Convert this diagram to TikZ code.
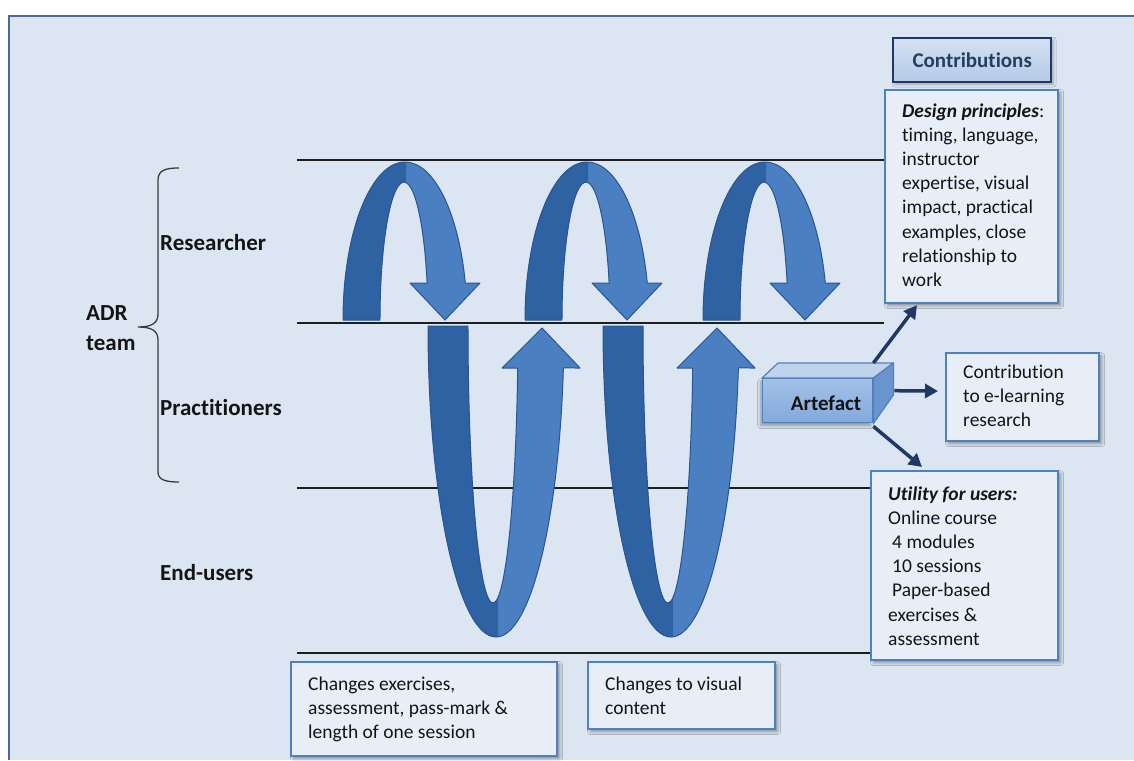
\documentclass[tikz,border=0pt]{standalone}
\usepackage{fontspec}
\setmainfont{Carlito}[Ligatures=NoCommon]
\usetikzlibrary{arrows.meta,shadows.blur,calc}

\definecolor{pagebg}{HTML}{DCE6F2}
\definecolor{framecol}{HTML}{4A6B9C}
\definecolor{bandline}{HTML}{1E1E1E}
\definecolor{loopdark}{HTML}{2F62A2}
\definecolor{looplight}{HTML}{4A80C2}
\definecolor{loopedge}{HTML}{2A558F}
\definecolor{boxedge}{HTML}{4F81BD}
\definecolor{boxfill}{HTML}{E8EEF7}
\definecolor{navy}{HTML}{1F3864}
\definecolor{headtext}{HTML}{243F60}
\definecolor{headtop}{HTML}{D4E1F2}
\definecolor{headbot}{HTML}{B4CAE6}
\definecolor{artfronthi}{HTML}{A3C1E8}
\definecolor{artfrontlo}{HTML}{82A9DC}
\definecolor{arttop}{HTML}{C0D3EB}
\definecolor{artside}{HTML}{6A94CD}
\definecolor{inktext}{HTML}{141414}
\definecolor{bracecol}{HTML}{3A3A3A}

\newcommand\bodysize{\fontsize{19.5}{24.2}\selectfont}
\newcommand\labelsize{\fontsize{23}{30}\selectfont\bfseries}

\begin{document}
\begin{tikzpicture}[x=1pt,y=-1pt,
  bandrule/.style={draw=bandline, line width=1.3pt},
  loopfill/.style={fill=looplight},
  loopshade/.style={fill=loopdark},
  loopline/.style={draw=loopedge, line width=1pt, line join=round},
  % arch in the researcher band: centre x, legs end on y=320
  toparc/.style={insert path={({#1-62},320)
      arc[start angle=180,end angle=346.5,x radius=62,y radius=158]
      -- ({#1+75},283) -- ({#1+40},320) -- ({#1+5},283) -- ({#1+22.1},283)
      arc[start angle=344.4,end angle=180,x radius=24,y radius=138] -- cycle}},
  % deep U through practitioners and end-users: centre x, legs start on y=326
  lowloop/.style={insert path={({#1-68},326)
      arc[start angle=180,end angle=7.76,x radius=68,y radius=311]
      -- ({#1+84},368) -- ({#1+46},328) -- ({#1+6},368) -- ({#1+21.7},368)
      arc[start angle=8.72,end angle=180,x radius=25,y radius=277] -- cycle}},
  infobox/.style={draw=boxedge, fill=boxfill, line width=2.2pt, inner sep=0pt,
    anchor=north west,
    blur shadow={shadow xshift=2.5pt, shadow yshift=-2.5pt,
      shadow blur radius=3pt, shadow opacity=40}},
  headbox/.style={draw=navy, line width=2.3pt, top color=headtop,
    bottom color=headbot, inner sep=0pt, anchor=north west,
    text=headtext, font=\fontsize{21}{25}\selectfont\bfseries,
    blur shadow={shadow xshift=2pt, shadow yshift=-2pt,
      shadow blur radius=3pt, shadow opacity=30}},
  boxtext/.style={inner sep=0pt, anchor=base west, text=inktext, font=\bodysize},
  rowlabel/.style={inner sep=0pt, anchor=base west, text=inktext, font=\labelsize},
  outarrow/.style={draw=navy, line width=3.5pt,
    -{Triangle[length=13pt,width=14pt]}},
]
\useasboundingbox (0,0) rectangle (1134,760);

% page and frame
\fill[white] (0,0) rectangle (1134,760);
\fill[pagebg] (9,16) rectangle (1134,760);
\draw[framecol, line width=2.5pt] (9,760) -- (9,16) -- (1134,16);

% contribution boxes
\node[headbox, minimum width=158, minimum height=44] (contrib) at (892,37) {Contributions};
\node[infobox, minimum width=173, minimum height=213] (design) at (884,89) {};
\node[infobox, minimum width=153, minimum height=88] (research) at (945,352) {};
\node[infobox, minimum width=187, minimum height=189] (utility) at (870,470) {};
\node[infobox, minimum width=266, minimum height=94] (change1) at (290,661) {};
\node[infobox, minimum width=187, minimum height=67] (change2) at (587,661) {};

\node[boxtext] (designtxt) at (902,117) {\begin{tabular}[t]{@{}l@{}}%
  \textbf{\textit{Design principles}}:\\timing, language,\\instructor\\%
  expertise, visual\\impact, practical\\examples, close\\relationship to\\work%
  \end{tabular}};
\node[boxtext] (researchtxt) at (963,378) {\begin{tabular}[t]{@{}l@{}}%
  Contribution\\to e-learning\\research\end{tabular}};
\node[boxtext] (utilitytxt) at (888,500) {\begin{tabular}[t]{@{}l@{}}%
  \textbf{\textit{Utility for users:}}\\Online course\\\hspace*{4pt}4 modules\\%
  \hspace*{4pt}10 sessions\\\hspace*{4pt}Paper-based\\exercises \&\\assessment%
  \end{tabular}};
\node[boxtext] (change1txt) at (308,690) {\begin{tabular}[t]{@{}l@{}}%
  Changes exercises,\\assessment, pass-mark \&\\length of one session\end{tabular}};
\node[boxtext] (change2txt) at (605,690) {\begin{tabular}[t]{@{}l@{}}%
  Changes to visual\\content\end{tabular}};

% band rules
\coordinate (rule1) at (297,160);
\coordinate (rule2) at (297,323);
\coordinate (rule3) at (297,488);
\coordinate (rule4) at (297,653);
\draw[bandrule] (rule1) -- (rule1 -| design.west);
\draw[bandrule] (rule2) -- (rule2 -| design.west);
\draw[bandrule] (rule3) -- (rule3 -| utility.west);
\draw[bandrule] (rule4) -- (rule4 -| utility.west);

% spiral of iterations: arches on top, deep loops below
\foreach \c in {405,587,765} {
  \fill[loopfill] [toparc=\c];
  \begin{scope}
    \clip ({\c-90},150) rectangle ({\c+1},330);
    \fill[loopshade] [toparc=\c];
  \end{scope}
  \draw[loopline] [toparc=\c];
}
\foreach \c in {496,671} {
  \fill[loopfill] [lowloop=\c];
  \begin{scope}
    \clip ({\c-100},320) rectangle ({\c+2},650);
    \fill[loopshade] [lowloop=\c];
  \end{scope}
  \draw[loopline] [lowloop=\c];
}

% team brace and row labels
\draw[bracecol, line width=1.3pt]
  (179,168) .. controls (166,168) and (158,170) .. (158,180)
  -- (158,314) .. controls (158,323) and (152,327) .. (138,327)
  .. controls (152,327) and (158,331) .. (158,340)
  -- (158,472) .. controls (158,480) and (166,482) .. (179,482);
\node[rowlabel] (adr) at (86,320) {ADR};
\node[rowlabel] (team) at (86,350) {team};
\node[rowlabel] (researcher) at (160,250) {Researcher};
\node[rowlabel] (practitioners) at (160,415) {Practitioners};
\node[rowlabel] (endusers) at (160,580) {End-users};

% artefact block
\node[inner sep=0pt, minimum width=110, minimum height=44, anchor=north west,
  draw=boxedge, line width=1.4pt, top color=artfronthi, bottom color=artfrontlo,
  blur shadow={shadow xshift=-2pt, shadow yshift=-3pt, shadow blur radius=3pt,
    shadow opacity=35}] (art) at (762,378) {};
\filldraw[fill=arttop, draw=boxedge, line width=1.2pt, line join=round]
  (art.north west) -- ++(16,-15) -- ($(art.north east)+(20,-15)$)
  -- (art.north east) -- cycle;
\filldraw[fill=artside, draw=boxedge, line width=1.2pt, line join=round]
  (art.north east) -- ++(20,-15) -- ++(0,32) -- (art.south east) -- cycle;
\node[inner sep=0pt, anchor=base, text=inktext,
  font=\fontsize{21}{25}\selectfont\bfseries] (arttxt) at (826,410) {Artefact};

% outputs of the artefact
\coordinate (artup) at ($(art.north east)+(0,-15)$);
\coordinate (artmid) at ($(art.east)+(21,-10)$);
\coordinate (artdown) at ($(art.south east)+(0,3)$);
\coordinate (designfoot) at ($(design.south west)+(33,1)$);
\coordinate (researchin) at ($(research.west)+(-7,-6)$);
\coordinate (utilityin) at ($(utility.north west)+(52,-3)$);
\draw[outarrow] (artup) -- (designfoot);
\draw[outarrow] (artmid) -- (researchin);
\draw[outarrow] (artdown) -- (utilityin);
\end{tikzpicture}
\end{document}
